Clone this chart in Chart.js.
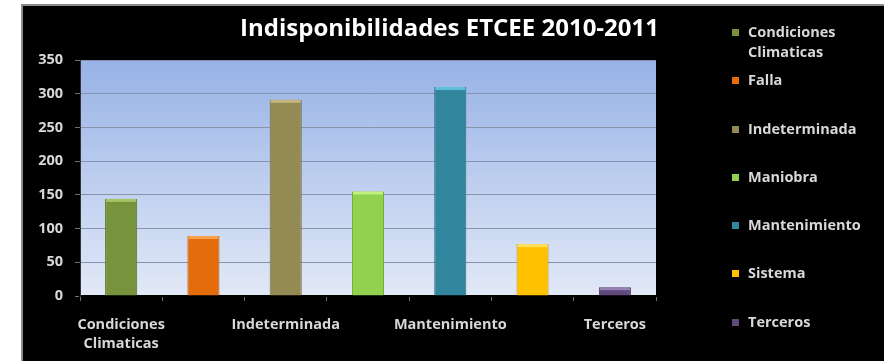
<!DOCTYPE html>
<html>
<head>
<meta charset="utf-8">
<script src="https://cdn.jsdelivr.net/npm/chart.js@4.4.0/dist/chart.umd.min.js"></script>
<style>
  html, body { margin: 0; padding: 0; background: #fff; }
  #box {
    position: absolute; left: 21px; top: 4px; width: 863px; height: 357px;
    background: #000; border-top: 2px solid #8c8c8c; border-left: 2px solid #8c8c8c;
    box-sizing: border-box;
  }
  #chart { position: absolute; left: 0; top: 0; }
  #legend {
    position: absolute; left: 709px; top: 16px;
    font-family: "Open Sans", sans-serif; font-weight: bold; font-size: 14.5px;
    color: #d8d8d8;
  }
  .row { height: 48.3px; display: flex; align-items: flex-start; line-height: 20px; }
  .sw { width: 7px; height: 7px; margin: 7px 9px 0 0; flex: none; }
</style>
</head>
<body>
<div id="box">
  <canvas id="chart" width="861" height="355"></canvas>
  <div id="legend"></div>
</div>
<script>
const titleText = 'Indisponibilidades ETCEE 2010-2011';
const categories = [
  ['Condiciones', 'Climaticas'],
  'Falla',
  'Indeterminada',
  'Maniobra',
  'Mantenimiento',
  'Sistema',
  'Terceros'
];
const values = [144, 89, 291, 155, 310, 77, 13];
const barColors = ['#77933c', '#e46c0a', '#948a54', '#92d050', '#31859c', '#ffc000', '#604a7b'];
const edgeColors = ['#5b7229', '#b85405', '#736a3c', '#72a838', '#22677a', '#c99600', '#463660'];
const capColors = ['#a6c466', '#f7a04c', '#c2b67d', '#c2ef7e', '#5cc0da', '#ffe060', '#9580b5'];
const yTicks = [0, 50, 100, 150, 200, 250, 300, 350];

// legend on the right, one row per category
const legend = document.getElementById('legend');
categories.forEach(function (c, i) {
  const row = document.createElement('div');
  row.className = 'row';
  const sw = document.createElement('div');
  sw.className = 'sw';
  sw.style.background = barColors[i];
  const txt = document.createElement('div');
  txt.innerHTML = Array.isArray(c) ? c.join('<br>') : c;
  row.appendChild(sw);
  row.appendChild(txt);
  legend.appendChild(row);
});

// blue gradient behind the bars
const plotBackground = {
  id: 'plotBackground',
  beforeDraw(chart) {
    const a = chart.chartArea;
    const ctx = chart.ctx;
    const g = ctx.createLinearGradient(0, a.top, 0, a.bottom);
    g.addColorStop(0, '#97b2e6');
    g.addColorStop(1, '#e2e9f7');
    ctx.save();
    ctx.fillStyle = g;
    ctx.fillRect(a.left, a.top, a.right - a.left, a.bottom - a.top);
    ctx.restore();
  }
};

// light bevel along the top of each bar
const barCaps = {
  id: 'barCaps',
  afterDatasetsDraw(chart) {
    const ctx = chart.ctx;
    ctx.save();
    chart.getDatasetMeta(0).data.forEach(function (bar, i) {
      const half = bar.width / 2;
      ctx.fillStyle = capColors[i];
      ctx.fillRect(bar.x - half + 1, bar.y, bar.width - 2, Math.min(3, bar.base - bar.y));
    });
    ctx.restore();
  }
};

// title centred over the whole box, legend included
const boxTitle = {
  id: 'boxTitle',
  afterDraw(chart) {
    const ctx = chart.ctx;
    ctx.save();
    ctx.fillStyle = '#ffffff';
    ctx.font = 'bold 24px "Open Sans", sans-serif';
    ctx.textAlign = 'center';
    ctx.textBaseline = 'middle';
    ctx.fillText(titleText, chart.width / 2 - 4, 23);
    ctx.restore();
  }
};

const labelFont = { family: '"Open Sans", sans-serif', weight: 'bold', size: 14.5, lineHeight: 1.35 };

new Chart(document.getElementById('chart'), {
  type: 'bar',
  data: {
    labels: categories,
    datasets: [{
      data: values,
      backgroundColor: barColors,
      borderColor: edgeColors,
      borderWidth: 1,
      barPercentage: 0.39,
      categoryPercentage: 1
    }]
  },
  options: {
    responsive: false,
    animation: false,
    layout: { padding: { left: 10, right: 228, top: 54, bottom: 5 } },
    plugins: {
      legend: { display: false },
      tooltip: { enabled: false },
      title: { display: false }
    },
    scales: {
      x: {
        afterFit: function (s) { s.height = 60; },
        grid: {
          display: true, drawOnChartArea: false, offset: true,
          color: '#6f6f6f', tickLength: 5
        },
        border: { color: '#000', width: 2 },
        ticks: {
          color: '#d8d8d8', font: labelFont, padding: 14,
          autoSkip: false, maxRotation: 0,
          callback: function (v, i) { return i % 2 === 0 ? categories[i] : ''; }
        }
      },
      y: {
        min: 0, max: 350,
        afterBuildTicks: function (s) { s.ticks = yTicks.map(function (v) { return { value: v }; }); },
        afterFit: function (s) { s.width = 47; },
        grid: { color: '#8894ad', lineWidth: 1, tickLength: 5, tickColor: '#6f6f6f' },
        border: { color: '#333', width: 1 },
        ticks: { color: '#d8d8d8', font: { family: '"Open Sans", sans-serif', weight: 'bold', size: 14.5 }, padding: 12 }
      }
    }
  },
  plugins: [plotBackground, barCaps, boxTitle]
});
</script>
</body>
</html>
